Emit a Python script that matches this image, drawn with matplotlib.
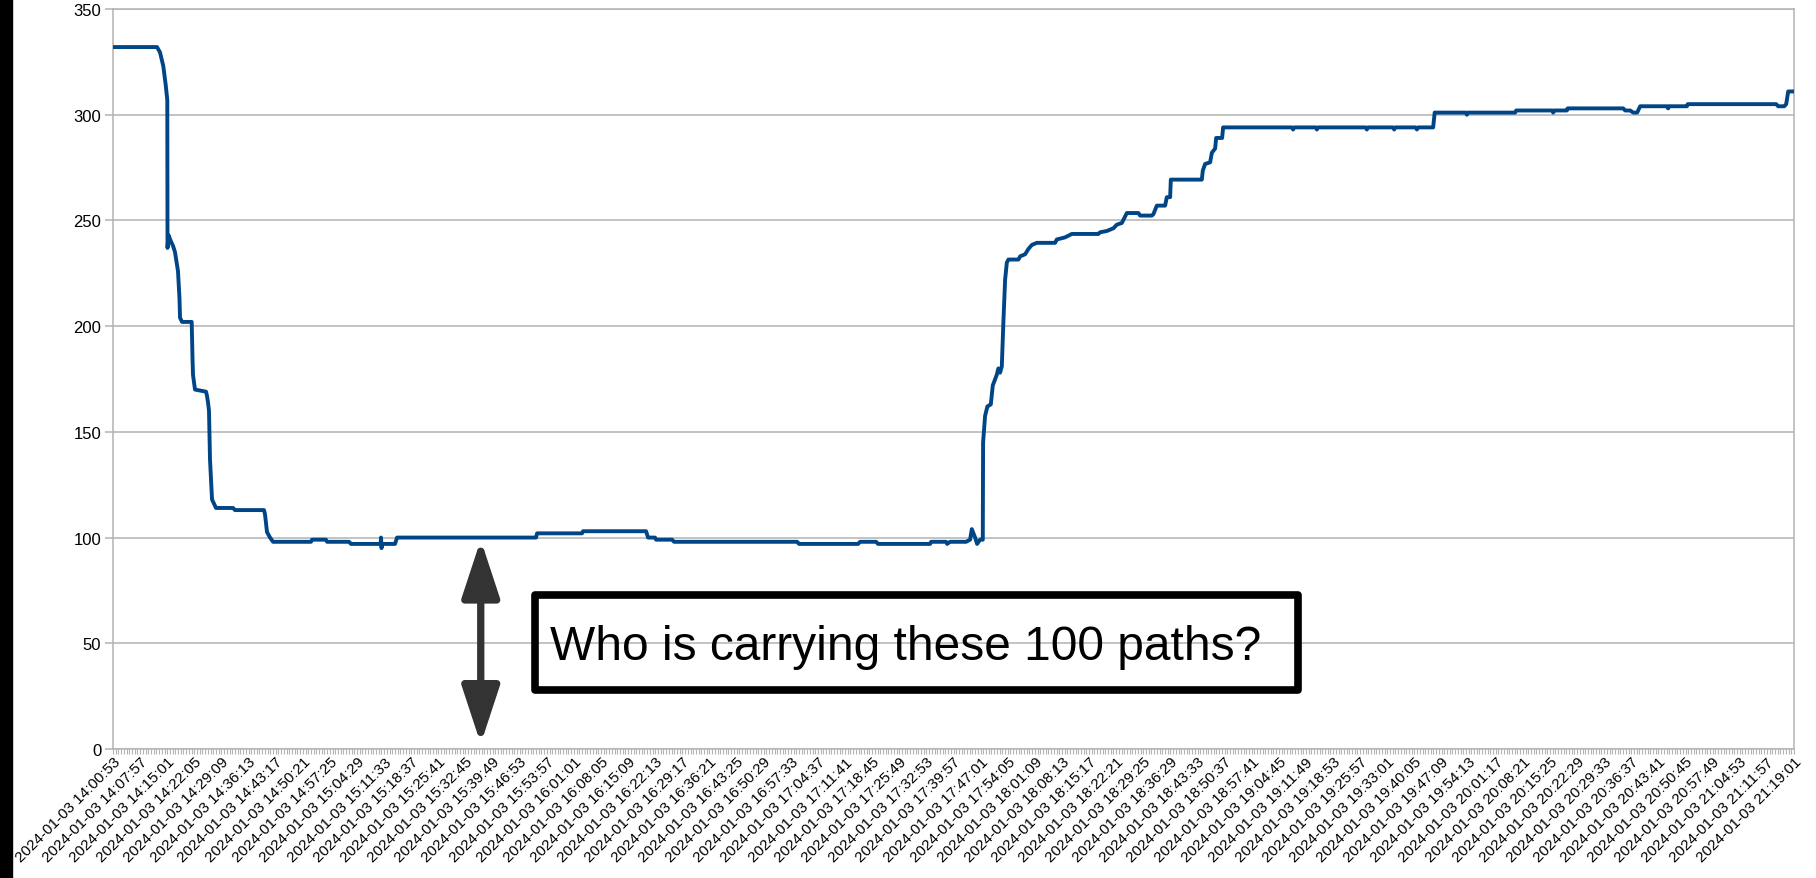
import numpy as np
import pandas as pd
import matplotlib
matplotlib.use("Agg")
import matplotlib.pyplot as plt
from matplotlib.patches import FancyArrowPatch, Rectangle

plt.rcParams['font.family'] = ['Liberation Sans', 'DejaVu Sans']

# elapsed minutes since 2024-01-03 14:00:53
t_min = [0, 11.47, 12.25, 13.11, 13.74, 14.15, 14.21, 14.47, 15.12, 15.64,
         16.16, 16.94, 17.33, 17.47, 17.99, 20.51, 20.72, 20.85, 21.37, 24.24,
         24.50, 24.76, 25.02, 25.28, 25.81, 26.85, 31.28, 31.80, 39.36, 39.62,
         40.14, 40.93, 41.71, 51.61, 51.87, 55.52, 55.78, 61.52, 62.04, 69.73,
         69.86, 69.99, 70.12, 73.51, 74.03, 110.26, 110.52, 122.25, 122.51, 138.94,
         139.46, 141.28, 141.54, 145.71, 146.24, 178.30, 178.82, 194.20, 194.72, 198.89,
         199.41, 212.97, 213.23, 217.14, 217.40, 218.18, 222.35, 223.39, 223.84, 224.70,
         225.22, 226.00, 226.70, 226.78, 227.30, 227.90, 228.79, 229.31, 230.35, 230.77,
         231.21, 231.66, 232.07, 232.52, 232.96, 233.38, 235.98, 236.43, 237.73, 238.59,
         239.48, 240.78, 245.55, 246.00, 248.16, 249.90, 256.84, 257.28, 259.03, 260.75,
         261.64, 262.94, 264.24, 267.26, 267.71, 270.76, 271.18, 272.06, 274.22, 274.67,
         275.53, 275.71, 283.79, 284.05, 284.65, 285.96, 286.40, 287.26, 287.52, 289.08,
         289.34, 307.30, 307.59, 307.90, 313.50, 313.77, 314.05, 326.50, 326.80, 327.10,
         333.60, 333.92, 334.20, 339.50, 339.84, 340.20, 344.08, 344.48, 352.60, 352.87,
         353.15, 365.46, 365.72, 375.10, 375.36, 375.60, 378.94, 379.14, 393.61, 394.13,
         395.44, 396.22, 397.26, 398.04, 405.10, 405.34, 405.60, 410.21, 410.43, 433.49,
         434.02, 435.58, 436.10, 436.62, 438.13]

paths = [332, 332, 329.5, 323, 314, 307, 237, 243, 240, 238,
         235, 226, 213, 204, 202, 202, 185, 177, 170, 169,
         167, 164, 160, 137, 118, 114, 114, 113, 113, 111,
         102.6, 100, 98, 98, 99, 99, 98, 98, 97, 97,
         100, 95, 97, 97, 100, 100, 102, 102, 103, 103,
         100, 100, 99, 99, 98, 98, 97, 97, 98, 98,
         97, 97, 98, 98, 97, 98, 98, 99, 104, 100,
         97, 99, 99, 145, 157.6, 162, 163, 172, 177, 180,
         178, 181, 202, 222, 230, 231.5, 231.5, 233, 234, 236.5,
         238.4, 239.4, 239.4, 241, 242, 243.6, 243.6, 244.4, 245, 246.3,
         248, 248.8, 253.5, 253.5, 252.3, 252.3, 253, 257, 257, 261,
         261, 269.3, 269.3, 273.6, 276.7, 277.5, 282, 284, 289, 289,
         294, 294, 293, 294, 294, 293, 294, 294, 293, 294,
         294, 293, 294, 294, 293, 294, 294, 301, 301, 300,
         301, 301, 302, 302, 301, 302, 302, 303, 303, 302,
         302, 301, 301, 304, 304, 303, 304, 304, 305, 305,
         304, 304, 305, 311, 311]

start = pd.Timestamp('2024-01-03 14:00:53')
label_step_s = 424
n_labels = 63
tick_times = pd.date_range(start, periods=n_labels, freq=f'{label_step_s}s')
tick_labels = [t.strftime('%Y-%m-%d %H:%M:%S') for t in tick_times]
tick_pos = [(t - start).total_seconds() / 60 for t in tick_times]
minor_pos = np.arange(0, (n_labels - 1) * 10 + 1) * label_step_s / 600

W, H = 1816, 879
fig = plt.figure(figsize=(W / 100, H / 100), dpi=100)
ax = fig.add_axes([113 / W, 1 - 750 / H, 1681 / W, 740 / H])

grey = '#b3b3b3'
ax.plot(t_min, paths, color='#004586', lw=2.8, solid_joinstyle='round', zorder=3)
ax.set_xlim(0, tick_pos[-1])
ax.set_ylim(0, 350)
ax.set_yticks(np.arange(0, 351, 50))
ax.yaxis.grid(True, color=grey, lw=1.1)
ax.set_axisbelow(True)
for s in ax.spines.values():
    s.set_color(grey)
    s.set_linewidth(1.1)

ax.set_xticks(tick_pos)
ax.set_xticks(minor_pos, minor=True)
ax.set_xticklabels(tick_labels, rotation=45, ha='right', rotation_mode='anchor', fontsize=11)
ax.tick_params(axis='x', which='both', length=3.5, width=0.8, color=grey, pad=0.5)
ax.tick_params(axis='y', length=6, width=1.1, color=grey, labelsize=12, pad=2.5)

# double arrow over the 0..100 band
arr = FancyArrowPatch((95.85, 2.4), (95.85, 99.0),
                      arrowstyle='<|-|>,head_length=35,head_width=11.5',
                      mutation_scale=1, lw=5.25, color='#333333',
                      shrinkA=0, shrinkB=0, zorder=4)
ax.add_patch(arr)

def fx(x):
    return x / W

def fy(y):
    return 1 - y / H

box = Rectangle((fx(534.5), fy(691.2)), fx(1297.9) - fx(534.5), fy(595.5) - fy(691.2),
                transform=fig.transFigure, fill=False, ec='black', lw=5.5,
                joinstyle='round', zorder=5)
fig.patches.append(box)
fig.text(fx(905.5), fy(660), 'Who is carrying these 100 paths?', fontsize=34.5,
         ha='center', va='baseline', color='black')

# black strip along the left edge
fig.patches.append(Rectangle((0, 0), 12 / W, 1, transform=fig.transFigure,
                             color='black', zorder=0))

fig.savefig('out.png', dpi=100)
